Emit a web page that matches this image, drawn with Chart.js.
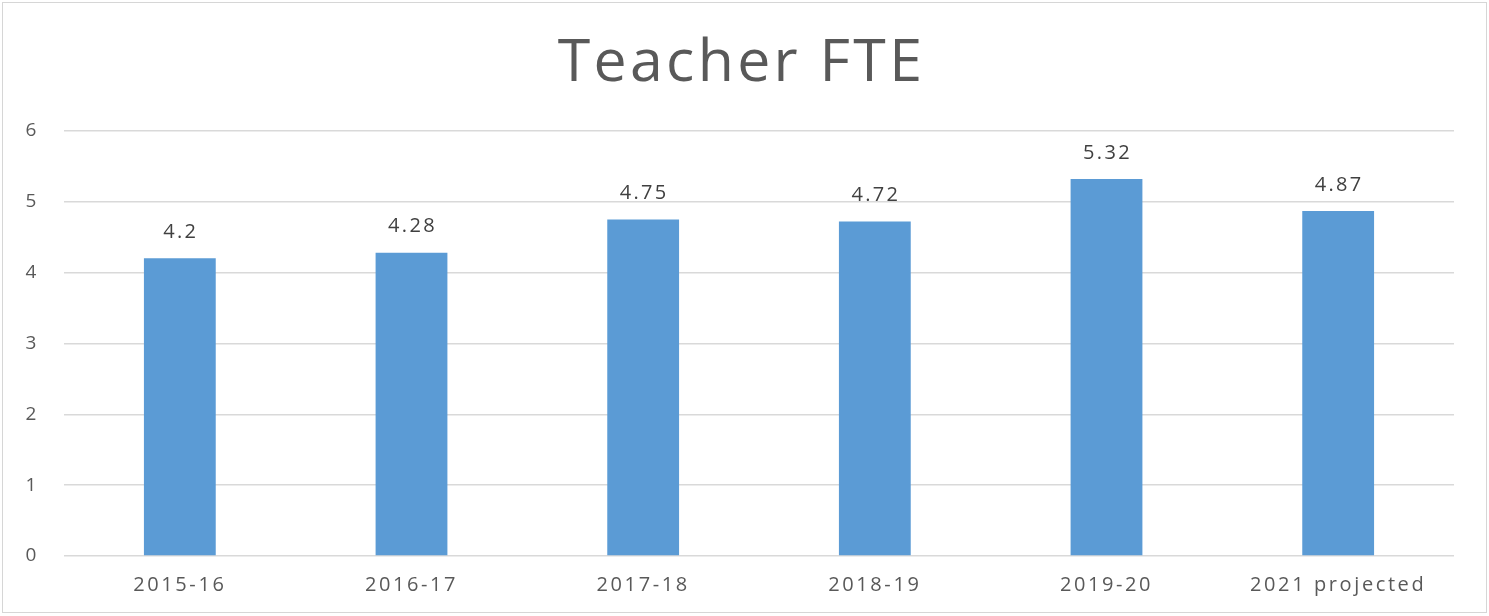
<!DOCTYPE html>
<html><head><meta charset="utf-8">
<script src="https://cdn.jsdelivr.net/npm/chart.js@4.4.1/dist/chart.umd.min.js"></script>
<style>
html,body{margin:0;padding:0;background:#fff;}
#wrap{position:relative;width:1489px;height:616px;}
#frame{position:absolute;left:2px;top:2px;width:1483px;height:609px;border:1px solid #d6d6d6;pointer-events:none;}
canvas{display:block;}
</style></head>
<body>
<div id="wrap"><canvas id="c" width="1489" height="616"></canvas><div id="frame"></div></div>
<script>
const categories = ["2015-16","2016-17","2017-18","2018-19","2019-20","2021 projected"];
const teacherFTE = [4.2, 4.28, 4.75, 4.72, 5.32, 4.87];
const yTicks = [0,1,2,3,4,5,6];

const FONT = "'Open Sans', 'Liberation Sans', sans-serif";

const spacingPlugin = {
  id: 'spacing',
  beforeDraw(chart) {
    const ctx = chart.ctx;
    ctx.letterSpacing = '2.6px';
    const tb = chart.titleBlock;
    if (tb && !tb._wrapped) {
      const orig = tb.draw;
      tb.draw = function () {
        const prev = ctx.letterSpacing;
        ctx.save();
        ctx.translate(8, 0);
        ctx.letterSpacing = '3.3px';
        orig.apply(this, arguments);
        ctx.restore();
        ctx.letterSpacing = prev;
      };
      tb._wrapped = true;
    }
  }
};

const labelPlugin = {
  id: 'valueLabels',
  afterDatasetsDraw(chart) {
    const ctx = chart.ctx;
    const meta = chart.getDatasetMeta(0);
    ctx.save();
    ctx.letterSpacing = '2.3px';
    ctx.font = "20px " + FONT;
    ctx.fillStyle = "#404040";
    ctx.textAlign = "center";
    ctx.textBaseline = "middle";
    meta.data.forEach((el, i) => {
      ctx.fillText(String(teacherFTE[i]), el.x + 1, el.y - 26);
    });
    ctx.restore();
  }
};

new Chart(document.getElementById('c'), {
  type: 'bar',
  data: {
    labels: categories,
    datasets: [{
      data: teacherFTE,
      backgroundColor: '#5B9BD5',
      borderWidth: 0,
      barPercentage: 0.62,
      categoryPercentage: 0.5
    }]
  },
  options: {
    responsive: false,
    animation: false,
    layout: { padding: { left: 13, right: 35, top: 0, bottom: 2 } },
    plugins: {
      legend: { display: false },
      tooltip: { enabled: false },
      title: {
        display: true,
        text: 'Teacher FTE',
        color: '#595959',
        font: { family: FONT, size: 59, weight: 'normal' },
        padding: { top: 29, bottom: 31 }
      }
    },
    scales: {
      x: {
        grid: { display: false, drawTicks: false },
        border: { display: false },
        ticks: { color: '#595959', font: { family: FONT, size: 20 }, padding: 17, maxRotation: 0, autoSkip: false }
      },
      y: {
        min: 0, max: 6,
        afterBuildTicks(scale) { scale.ticks = yTicks.map(v => ({ value: v })); },
        afterFit(scale) { scale.width = 51; },
        grid: { color: '#d9d9d9', lineWidth: 1.5, drawTicks: false },
        border: { display: false },
        ticks: { color: '#595959', font: { family: FONT, size: 19 }, padding: 25 }
      }
    }
  },
  plugins: [spacingPlugin, labelPlugin]
});
</script>
</body></html>
